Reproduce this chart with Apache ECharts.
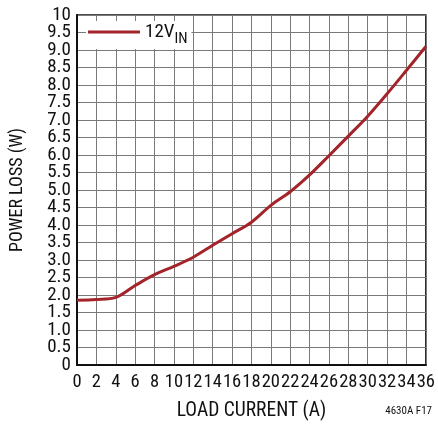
<!DOCTYPE html>
<html>
<head>
<meta charset="utf-8">
<script src="https://cdn.jsdelivr.net/npm/echarts@6/dist/echarts.min.js"></script>
<style>
html,body{margin:0;padding:0;background:#fff;}
#c{width:438px;height:426px;}
</style>
</head>
<body>
<div id="c"></div>
<script>
var loadCurrent = [0, 2, 4, 6, 8, 10, 12, 14, 16, 18, 20, 22, 24, 26, 28, 30, 32, 34, 36];
var powerLoss12V = [1.85, 1.87, 1.93, 2.27, 2.58, 2.82, 3.08, 3.42, 3.75, 4.08, 4.56, 4.95, 5.43, 5.98, 6.54, 7.11, 7.75, 8.42, 9.1];
var seriesName = '12V_IN';
var xTitle = 'LOAD CURRENT (A)';
var yTitle = 'POWER LOSS (W)';
var footnote = '4630A F17';

var FONT = '"Roboto Condensed", "Liberation Sans Narrow", sans-serif';
var chart = echarts.init(document.getElementById('c'), null, {renderer: 'canvas'});
var data = loadCurrent.map(function (x, i) { return [x, powerLoss12V[i]]; });
var yLabelFmt = function (v) { return (v === 0 || v === 10) ? String(v) : v.toFixed(1); };

chart.setOption({
  animation: false,
  backgroundColor: '#fff',
  textStyle: {fontFamily: FONT, color: '#111'},
  grid: {left: 77, right: 10, top: 15, bottom: 59, show: true, borderColor: '#111', borderWidth: 1.5, backgroundColor: 'transparent'},
  legend: {
    show: true,
    left: 86, top: 21,
    padding: [2, 4, 2, 2],
    backgroundColor: '#fff',
    itemWidth: 52, itemHeight: 10, itemGap: 10,
    icon: 'path://M0,4 L52,4 L52,7 L0,7 Z',
    data: [{name: seriesName}],
    formatter: function () { return '{m|12V}{s|IN}'; },
    textStyle: {
      fontFamily: FONT,
      rich: {
        m: {fontSize: 19, fontFamily: FONT, color: '#111', verticalAlign: 'bottom', lineHeight: 20},
        s: {fontSize: 15, fontFamily: FONT, color: '#111', verticalAlign: 'bottom', padding: [0, 0, -5, 0], lineHeight: 20}
      }
    }
  },
  xAxis: {
    type: 'value', min: 0, max: 36, interval: 2,
    name: xTitle, nameLocation: 'middle', nameGap: 36,
    nameTextStyle: {fontSize: 19.5, fontFamily: FONT, color: '#111'},
    axisLine: {show: true, lineStyle: {color: '#111', width: 2}},
    axisTick: {show: false},
    axisLabel: {fontSize: 18.5, fontFamily: FONT, color: '#111', margin: 8, showMinLabel: true, showMaxLabel: true, hideOverlap: false},
    splitLine: {show: true, lineStyle: {color: '#7a7a7a', width: 1}}
  },
  yAxis: [{
    type: 'value', min: 0, max: 10, interval: 0.5,
    name: yTitle, nameLocation: 'middle', nameGap: 51, nameRotate: 90,
    nameTextStyle: {fontSize: 18, fontFamily: FONT, color: '#111'},
    axisLine: {show: true, lineStyle: {color: '#111', width: 2}},
    axisTick: {show: false},
    axisLabel: {
      fontSize: 19, fontFamily: FONT, color: '#111', margin: 6, showMinLabel: false, showMaxLabel: false,
      formatter: yLabelFmt
    },
    splitLine: {show: true, lineStyle: {color: '#7a7a7a', width: 1}}
  }, {
    type: 'value', min: 0, max: 10, interval: 10, position: 'left',
    axisLine: {show: false}, axisTick: {show: false}, splitLine: {show: false},
    axisLabel: {
      fontSize: 19, fontFamily: FONT, color: '#111', margin: 6, showMinLabel: true, showMaxLabel: true,
      formatter: yLabelFmt
    }
  }],
  graphic: [{
    type: 'text', right: 6, top: 406,
    style: {text: footnote, font: '11px ' + FONT, fill: '#111'}
  }],
  series: [{
    name: seriesName, type: 'line', data: data, smooth: 0.35, yAxisIndex: 0,
    showSymbol: false, symbol: 'none',
    lineStyle: {color: '#a3242a', width: 3},
    itemStyle: {color: '#a3242a'}
  }]
});
</script>
</body>
</html>
